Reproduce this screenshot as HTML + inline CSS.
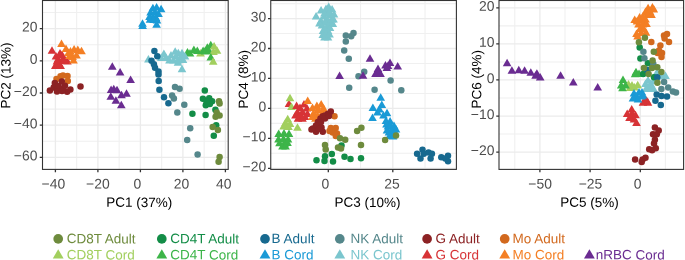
<!DOCTYPE html><html><head><meta charset="utf-8"><style>html,body{margin:0;padding:0;background:#fff;width:685px;height:260px;overflow:hidden}svg{display:block;will-change:transform}text{font-family:"Liberation Sans",sans-serif;text-rendering:geometricPrecision}</style></head><body>
<svg width="685" height="260" viewBox="0 0 685 260">
<g><clipPath id="c0"><rect x="42.5" y="0.5" width="185.7" height="168.9"/></clipPath>
<path d="M76.65 0.5V169.4M119.15 0.5V169.4M161.65 0.5V169.4M204.15 0.5V169.4M42.5 12.50H228.2M42.5 44.70H228.2M42.5 76.90H228.2M42.5 109.10H228.2M42.5 141.30H228.2" stroke="#F0F0F0" stroke-width="1.1" fill="none"/>
<path d="M55.40 0.5V169.4M97.90 0.5V169.4M140.40 0.5V169.4M182.90 0.5V169.4M225.40 0.5V169.4M42.5 28.60H228.2M42.5 60.80H228.2M42.5 93.00H228.2M42.5 125.20H228.2M42.5 157.40H228.2" stroke="#EBEBEB" stroke-width="1.3" fill="none"/>
<g clip-path="url(#c0)">
<path d="M200.50 49.00L204.83 56.50L196.17 56.50Z" fill="#A2CF5E"/>
<path d="M187.50 48.10L191.83 55.60L183.17 55.60Z" fill="#3DB549"/>
<path d="M193.90 45.50L198.23 53.00L189.57 53.00Z" fill="#3DB549"/>
<path d="M197.30 46.60L201.63 54.10L192.97 54.10Z" fill="#3DB549"/>
<path d="M203.10 46.40L207.43 53.90L198.77 53.90Z" fill="#3DB549"/>
<path d="M207.30 43.20L211.63 50.70L202.97 50.70Z" fill="#3DB549"/>
<path d="M210.80 40.80L215.13 48.30L206.47 48.30Z" fill="#3DB549"/>
<path d="M205.00 47.00L209.33 54.50L200.67 54.50Z" fill="#3DB549"/>
<path d="M209.00 46.50L213.33 54.00L204.67 54.00Z" fill="#3DB549"/>
<path d="M190.00 49.00L194.33 56.50L185.67 56.50Z" fill="#3DB549"/>
<path d="M214.10 42.00L218.43 49.50L209.77 49.50Z" fill="#A2CF5E"/>
<path d="M217.00 46.20L221.33 53.70L212.67 53.70Z" fill="#A2CF5E"/>
<path d="M213.50 47.50L217.83 55.00L209.17 55.00Z" fill="#A2CF5E"/>
<path d="M210.80 53.00L215.13 60.50L206.47 60.50Z" fill="#3DB549"/>
<path d="M213.20 57.30L217.53 64.80L208.87 64.80Z" fill="#A2CF5E"/>
<path d="M148.40 55.10L152.73 62.60L144.07 62.60Z" fill="#7BC6CE"/>
<path d="M163.90 49.60L168.23 57.10L159.57 57.10Z" fill="#7BC6CE"/>
<path d="M161.30 53.50L165.63 61.00L156.97 61.00Z" fill="#7BC6CE"/>
<path d="M166.00 53.50L170.33 61.00L161.67 61.00Z" fill="#7BC6CE"/>
<path d="M175.20 47.20L179.53 54.70L170.87 54.70Z" fill="#7BC6CE"/>
<path d="M178.30 48.80L182.63 56.30L173.97 56.30Z" fill="#7BC6CE"/>
<path d="M182.00 48.80L186.33 56.30L177.67 56.30Z" fill="#7BC6CE"/>
<path d="M171.00 51.00L175.33 58.50L166.67 58.50Z" fill="#7BC6CE"/>
<path d="M176.00 52.00L180.33 59.50L171.67 59.50Z" fill="#7BC6CE"/>
<path d="M181.00 52.50L185.33 60.00L176.67 60.00Z" fill="#7BC6CE"/>
<path d="M185.00 52.00L189.33 59.50L180.67 59.50Z" fill="#7BC6CE"/>
<path d="M169.50 56.00L173.83 63.50L165.17 63.50Z" fill="#7BC6CE"/>
<path d="M173.50 56.00L177.83 63.50L169.17 63.50Z" fill="#7BC6CE"/>
<path d="M178.00 56.00L182.33 63.50L173.67 63.50Z" fill="#7BC6CE"/>
<path d="M183.00 55.50L187.33 63.00L178.67 63.00Z" fill="#7BC6CE"/>
<path d="M178.00 58.20L182.33 65.70L173.67 65.70Z" fill="#7BC6CE"/>
<path d="M182.00 64.70L186.33 72.20L177.67 72.20Z" fill="#7BC6CE"/>
<path d="M52.00 46.20L56.33 53.70L47.67 53.70Z" fill="#D73336"/>
<path d="M56.00 52.00L60.33 59.50L51.67 59.50Z" fill="#D73336"/>
<path d="M55.30 61.40L59.63 68.90L50.97 68.90Z" fill="#D73336"/>
<path d="M60.60 61.40L64.93 68.90L56.27 68.90Z" fill="#D73336"/>
<path d="M58.00 55.00L62.33 62.50L53.67 62.50Z" fill="#D73336"/>
<path d="M62.00 56.00L66.33 63.50L57.67 63.50Z" fill="#D73336"/>
<path d="M67.40 57.10L71.73 64.60L63.07 64.60Z" fill="#D73336"/>
<path d="M60.00 49.00L64.33 56.50L55.67 56.50Z" fill="#D73336"/>
<path d="M59.00 59.00L63.33 66.50L54.67 66.50Z" fill="#D73336"/>
<path d="M63.50 53.50L67.83 61.00L59.17 61.00Z" fill="#D73336"/>
<path d="M57.00 57.00L61.33 64.50L52.67 64.50Z" fill="#D73336"/>
<path d="M64.00 56.50L68.33 64.00L59.67 64.00Z" fill="#D73336"/>
<path d="M62.00 50.50L66.33 58.00L57.67 58.00Z" fill="#D73336"/>
<path d="M152.90 3.70L157.23 11.20L148.57 11.20Z" fill="#1A9AD6"/>
<path d="M156.60 3.10L160.93 10.60L152.27 10.60Z" fill="#1A9AD6"/>
<path d="M161.10 4.70L165.43 12.20L156.77 12.20Z" fill="#1A9AD6"/>
<path d="M150.60 8.00L154.93 15.50L146.27 15.50Z" fill="#1A9AD6"/>
<path d="M155.00 8.00L159.33 15.50L150.67 15.50Z" fill="#1A9AD6"/>
<path d="M158.50 9.50L162.83 17.00L154.17 17.00Z" fill="#1A9AD6"/>
<path d="M149.50 12.50L153.83 20.00L145.17 20.00Z" fill="#1A9AD6"/>
<path d="M153.00 12.50L157.33 20.00L148.67 20.00Z" fill="#1A9AD6"/>
<path d="M156.00 13.50L160.33 21.00L151.67 21.00Z" fill="#1A9AD6"/>
<path d="M150.00 15.30L154.33 22.80L145.67 22.80Z" fill="#1A9AD6"/>
<path d="M153.50 15.50L157.83 23.00L149.17 23.00Z" fill="#1A9AD6"/>
<path d="M157.00 16.00L161.33 23.50L152.67 23.50Z" fill="#1A9AD6"/>
<path d="M156.60 20.20L160.93 27.70L152.27 27.70Z" fill="#1A9AD6"/>
<path d="M142.50 19.30L146.83 26.80L138.17 26.80Z" fill="#1A9AD6"/>
<path d="M142.60 21.40L146.93 28.90L138.27 28.90Z" fill="#1A9AD6"/>
<path d="M61.50 39.40L65.83 46.90L57.17 46.90Z" fill="#F47F24"/>
<path d="M66.00 44.50L70.33 52.00L61.67 52.00Z" fill="#F47F24"/>
<path d="M74.10 44.90L78.43 52.40L69.77 52.40Z" fill="#F47F24"/>
<path d="M77.80 45.50L82.13 53.00L73.47 53.00Z" fill="#F47F24"/>
<path d="M81.50 46.80L85.83 54.30L77.17 54.30Z" fill="#F47F24"/>
<path d="M68.50 48.50L72.83 56.00L64.17 56.00Z" fill="#F47F24"/>
<path d="M70.50 47.00L74.83 54.50L66.17 54.50Z" fill="#F47F24"/>
<path d="M72.50 52.50L76.83 60.00L68.17 60.00Z" fill="#F47F24"/>
<path d="M76.50 51.00L80.83 58.50L72.17 58.50Z" fill="#F47F24"/>
<path d="M73.50 55.90L77.83 63.40L69.17 63.40Z" fill="#F47F24"/>
<path d="M69.50 51.50L73.83 59.00L65.17 59.00Z" fill="#F47F24"/>
<circle cx="60.50" cy="76.30" r="3.25" fill="#D2691E"/>
<circle cx="67.50" cy="76.00" r="3.25" fill="#D2691E"/>
<circle cx="56.50" cy="79.00" r="3.25" fill="#D2691E"/>
<circle cx="67.80" cy="81.00" r="3.25" fill="#D2691E"/>
<circle cx="63.00" cy="75.50" r="3.25" fill="#D2691E"/>
<circle cx="204.80" cy="90.50" r="3.25" fill="#138D47"/>
<circle cx="202.90" cy="98.80" r="3.25" fill="#138D47"/>
<circle cx="209.20" cy="98.30" r="3.25" fill="#138D47"/>
<circle cx="212.10" cy="101.20" r="3.25" fill="#138D47"/>
<circle cx="205.80" cy="105.20" r="3.25" fill="#138D47"/>
<circle cx="209.80" cy="104.00" r="3.25" fill="#138D47"/>
<circle cx="215.40" cy="109.80" r="3.25" fill="#138D47"/>
<circle cx="192.40" cy="113.80" r="3.25" fill="#138D47"/>
<circle cx="205.60" cy="115.00" r="3.25" fill="#138D47"/>
<circle cx="216.20" cy="125.30" r="3.25" fill="#138D47"/>
<circle cx="213.80" cy="135.80" r="3.25" fill="#138D47"/>
<circle cx="206.50" cy="101.50" r="3.25" fill="#138D47"/>
<circle cx="175.00" cy="86.90" r="3.25" fill="#55878B"/>
<circle cx="179.60" cy="88.70" r="3.25" fill="#55878B"/>
<circle cx="172.10" cy="95.60" r="3.25" fill="#55878B"/>
<circle cx="173.90" cy="98.50" r="3.25" fill="#55878B"/>
<circle cx="184.30" cy="104.80" r="3.25" fill="#55878B"/>
<circle cx="177.30" cy="112.50" r="3.25" fill="#55878B"/>
<circle cx="190.20" cy="128.20" r="3.25" fill="#55878B"/>
<circle cx="187.20" cy="140.00" r="3.25" fill="#55878B"/>
<circle cx="197.60" cy="154.60" r="3.25" fill="#55878B"/>
<circle cx="154.40" cy="51.00" r="3.25" fill="#17698F"/>
<circle cx="157.30" cy="56.20" r="3.25" fill="#17698F"/>
<circle cx="151.50" cy="60.80" r="3.25" fill="#17698F"/>
<circle cx="153.90" cy="64.20" r="3.25" fill="#17698F"/>
<circle cx="155.00" cy="67.70" r="3.25" fill="#17698F"/>
<circle cx="158.50" cy="71.50" r="3.25" fill="#17698F"/>
<circle cx="158.50" cy="74.40" r="3.25" fill="#17698F"/>
<circle cx="158.70" cy="81.00" r="3.25" fill="#17698F"/>
<circle cx="159.40" cy="89.80" r="3.25" fill="#17698F"/>
<circle cx="164.00" cy="97.30" r="3.25" fill="#17698F"/>
<circle cx="168.40" cy="103.30" r="3.25" fill="#17698F"/>
<circle cx="219.00" cy="101.20" r="3.25" fill="#6E8B3D"/>
<circle cx="219.60" cy="103.50" r="3.25" fill="#6E8B3D"/>
<circle cx="216.70" cy="112.60" r="3.25" fill="#6E8B3D"/>
<circle cx="219.60" cy="115.50" r="3.25" fill="#6E8B3D"/>
<circle cx="215.60" cy="116.70" r="3.25" fill="#6E8B3D"/>
<circle cx="212.70" cy="127.00" r="3.25" fill="#6E8B3D"/>
<circle cx="217.90" cy="129.90" r="3.25" fill="#6E8B3D"/>
<circle cx="219.60" cy="156.90" r="3.25" fill="#6E8B3D"/>
<circle cx="218.60" cy="161.80" r="3.25" fill="#6E8B3D"/>
<circle cx="49.90" cy="90.60" r="3.25" fill="#8C2224"/>
<circle cx="54.80" cy="83.10" r="3.25" fill="#8C2224"/>
<circle cx="61.80" cy="81.50" r="3.25" fill="#8C2224"/>
<circle cx="60.10" cy="89.50" r="3.25" fill="#8C2224"/>
<circle cx="67.10" cy="91.70" r="3.25" fill="#8C2224"/>
<circle cx="70.40" cy="89.50" r="3.25" fill="#8C2224"/>
<circle cx="65.00" cy="85.80" r="3.25" fill="#8C2224"/>
<circle cx="53.70" cy="87.40" r="3.25" fill="#8C2224"/>
<circle cx="56.90" cy="89.50" r="3.25" fill="#8C2224"/>
<circle cx="80.50" cy="86.60" r="3.25" fill="#8C2224"/>
<circle cx="58.50" cy="86.00" r="3.25" fill="#8C2224"/>
<circle cx="63.00" cy="88.50" r="3.25" fill="#8C2224"/>
<circle cx="57.00" cy="91.50" r="3.25" fill="#8C2224"/>
<circle cx="62.00" cy="91.00" r="3.25" fill="#8C2224"/>
<path d="M112.30 62.30L116.63 69.80L107.97 69.80Z" fill="#6A2C91"/>
<path d="M120.10 67.90L124.43 75.40L115.77 75.40Z" fill="#6A2C91"/>
<path d="M130.60 75.60L134.93 83.10L126.27 83.10Z" fill="#6A2C91"/>
<path d="M113.80 84.70L118.13 92.20L109.47 92.20Z" fill="#6A2C91"/>
<path d="M117.00 85.80L121.33 93.30L112.67 93.30Z" fill="#6A2C91"/>
<path d="M111.10 85.50L115.43 93.00L106.77 93.00Z" fill="#6A2C91"/>
<path d="M110.80 92.30L115.13 99.80L106.47 99.80Z" fill="#6A2C91"/>
<path d="M126.50 89.20L130.83 96.70L122.17 96.70Z" fill="#6A2C91"/>
<path d="M121.50 90.80L125.83 98.30L117.17 98.30Z" fill="#6A2C91"/>
<path d="M115.90 96.20L120.23 103.70L111.57 103.70Z" fill="#6A2C91"/>
<path d="M121.30 100.80L125.63 108.30L116.97 108.30Z" fill="#6A2C91"/>
</g>
<rect x="42.5" y="0.5" width="185.7" height="168.9" fill="none" stroke="#333" stroke-width="1.1"/>
<path d="M55.40 169.4v2.75M97.90 169.4v2.75M140.40 169.4v2.75M182.90 169.4v2.75M225.40 169.4v2.75M42.5 28.60h-2.75M42.5 60.80h-2.75M42.5 93.00h-2.75M42.5 125.20h-2.75M42.5 157.40h-2.75" stroke="#333" stroke-width="1.3" fill="none"/>
<text transform="translate(53.35 188.50) skewY(0.3) scale(1 1.0)" font-size="13.9" fill="#4D4D4D" text-anchor="middle">−40</text>
<text transform="translate(97.90 188.50) skewY(0.3) scale(1 1.0)" font-size="13.9" fill="#4D4D4D" text-anchor="middle">−20</text>
<text transform="translate(137.30 188.50) skewY(0.3) scale(1 1.0)" font-size="13.9" fill="#4D4D4D" text-anchor="middle">0</text>
<text transform="translate(181.50 188.50) skewY(0.3) scale(1 1.0)" font-size="13.9" fill="#4D4D4D" text-anchor="middle">20</text>
<text transform="translate(223.80 188.50) skewY(0.3) scale(1 1.0)" font-size="13.9" fill="#4D4D4D" text-anchor="middle">40</text>
<text transform="translate(37.40 31.60) skewY(0.3) scale(1 1.0)" font-size="13.9" fill="#4D4D4D" text-anchor="end">20</text>
<text transform="translate(37.40 63.80) skewY(0.3) scale(1 1.0)" font-size="13.9" fill="#4D4D4D" text-anchor="end">0</text>
<text transform="translate(37.40 96.00) skewY(0.3) scale(1 1.0)" font-size="13.9" fill="#4D4D4D" text-anchor="end">−20</text>
<text transform="translate(37.40 128.20) skewY(0.3) scale(1 1.0)" font-size="13.9" fill="#4D4D4D" text-anchor="end">−40</text>
<text transform="translate(37.40 160.40) skewY(0.3) scale(1 1.0)" font-size="13.9" fill="#4D4D4D" text-anchor="end">−60</text>
<text transform="translate(139.20 206.90) skewY(0.3) scale(1 1.0)" font-size="13.5" fill="#000" text-anchor="middle">PC1 (37%)</text>
<text transform="translate(10.3 108.5) rotate(-90) skewY(0.3) scale(1 1.0)" font-size="13.5" fill="#000">PC2 (13%)</text>
</g>
<g><clipPath id="c1"><rect x="270.75" y="0.5" width="185.64999999999998" height="168.9"/></clipPath>
<path d="M296.05 0.5V169.4M360.55 0.5V169.4M425.05 0.5V169.4M270.75 3.61H456.4M270.75 33.55H456.4M270.75 63.49H456.4M270.75 93.43H456.4M270.75 123.37H456.4M270.75 153.31H456.4" stroke="#F0F0F0" stroke-width="1.1" fill="none"/>
<path d="M328.30 0.5V169.4M392.80 0.5V169.4M270.75 18.58H456.4M270.75 48.52H456.4M270.75 78.46H456.4M270.75 108.40H456.4M270.75 138.34H456.4M270.75 168.28H456.4" stroke="#EBEBEB" stroke-width="1.3" fill="none"/>
<g clip-path="url(#c1)">
<path d="M289.00 99.50L293.33 107.00L284.67 107.00Z" fill="#D73336"/>
<path d="M290.00 93.80L294.33 101.30L285.67 101.30Z" fill="#A2CF5E"/>
<path d="M291.50 102.60L295.83 110.10L287.17 110.10Z" fill="#A2CF5E"/>
<path d="M287.70 114.80L292.03 122.30L283.37 122.30Z" fill="#A2CF5E"/>
<path d="M285.50 118.50L289.83 126.00L281.17 126.00Z" fill="#A2CF5E"/>
<path d="M290.00 119.50L294.33 127.00L285.67 127.00Z" fill="#A2CF5E"/>
<path d="M283.60 121.90L287.93 129.40L279.27 129.40Z" fill="#A2CF5E"/>
<path d="M288.50 122.50L292.83 130.00L284.17 130.00Z" fill="#A2CF5E"/>
<path d="M297.50 123.20L301.83 130.70L293.17 130.70Z" fill="#A2CF5E"/>
<path d="M278.70 129.50L283.03 137.00L274.37 137.00Z" fill="#3DB549"/>
<path d="M284.00 129.00L288.33 136.50L279.67 136.50Z" fill="#3DB549"/>
<path d="M289.00 129.50L293.33 137.00L284.67 137.00Z" fill="#3DB549"/>
<path d="M278.50 135.00L282.83 142.50L274.17 142.50Z" fill="#3DB549"/>
<path d="M283.50 134.50L287.83 142.00L279.17 142.00Z" fill="#3DB549"/>
<path d="M288.00 135.00L292.33 142.50L283.67 142.50Z" fill="#3DB549"/>
<path d="M279.50 138.80L283.83 146.30L275.17 146.30Z" fill="#3DB549"/>
<path d="M284.50 139.50L288.83 147.00L280.17 147.00Z" fill="#3DB549"/>
<path d="M287.50 138.50L291.83 146.00L283.17 146.00Z" fill="#3DB549"/>
<path d="M282.50 142.10L286.83 149.60L278.17 149.60Z" fill="#3DB549"/>
<path d="M285.50 142.10L289.83 149.60L281.17 149.60Z" fill="#3DB549"/>
<path d="M328.70 2.50L333.03 10.00L324.37 10.00Z" fill="#7BC6CE"/>
<path d="M321.10 5.90L325.43 13.40L316.77 13.40Z" fill="#7BC6CE"/>
<path d="M332.10 5.10L336.43 12.60L327.77 12.60Z" fill="#7BC6CE"/>
<path d="M316.10 12.00L320.43 19.50L311.77 19.50Z" fill="#7BC6CE"/>
<path d="M326.00 8.00L330.33 15.50L321.67 15.50Z" fill="#7BC6CE"/>
<path d="M330.50 10.50L334.83 18.00L326.17 18.00Z" fill="#7BC6CE"/>
<path d="M324.00 12.00L328.33 19.50L319.67 19.50Z" fill="#7BC6CE"/>
<path d="M321.00 16.50L325.33 24.00L316.67 24.00Z" fill="#7BC6CE"/>
<path d="M327.00 15.00L331.33 22.50L322.67 22.50Z" fill="#7BC6CE"/>
<path d="M332.00 15.00L336.33 22.50L327.67 22.50Z" fill="#7BC6CE"/>
<path d="M332.80 19.60L337.13 27.10L328.47 27.10Z" fill="#7BC6CE"/>
<path d="M322.00 21.00L326.33 28.50L317.67 28.50Z" fill="#7BC6CE"/>
<path d="M327.50 21.50L331.83 29.00L323.17 29.00Z" fill="#7BC6CE"/>
<path d="M323.00 26.50L327.33 34.00L318.67 34.00Z" fill="#7BC6CE"/>
<path d="M328.00 26.50L332.33 34.00L323.67 34.00Z" fill="#7BC6CE"/>
<path d="M322.80 30.50L327.13 38.00L318.47 38.00Z" fill="#7BC6CE"/>
<path d="M328.00 33.10L332.33 40.60L323.67 40.60Z" fill="#7BC6CE"/>
<path d="M324.50 33.10L328.83 40.60L320.17 40.60Z" fill="#7BC6CE"/>
<path d="M326.00 4.50L330.33 12.00L321.67 12.00Z" fill="#7BC6CE"/>
<path d="M324.50 9.00L328.83 16.50L320.17 16.50Z" fill="#7BC6CE"/>
<path d="M329.50 8.00L333.83 15.50L325.17 15.50Z" fill="#7BC6CE"/>
<path d="M334.00 10.00L338.33 17.50L329.67 17.50Z" fill="#7BC6CE"/>
<path d="M325.00 17.50L329.33 25.00L320.67 25.00Z" fill="#7BC6CE"/>
<path d="M330.00 17.50L334.33 25.00L325.67 25.00Z" fill="#7BC6CE"/>
<path d="M319.50 19.00L323.83 26.50L315.17 26.50Z" fill="#7BC6CE"/>
<path d="M325.00 24.00L329.33 31.50L320.67 31.50Z" fill="#7BC6CE"/>
<path d="M330.00 23.50L334.33 31.00L325.67 31.00Z" fill="#7BC6CE"/>
<path d="M326.00 29.00L330.33 36.50L321.67 36.50Z" fill="#7BC6CE"/>
<path d="M329.50 30.00L333.83 37.50L325.17 37.50Z" fill="#7BC6CE"/>
<path d="M333.50 15.00L337.83 22.50L329.17 22.50Z" fill="#7BC6CE"/>
<path d="M296.60 101.40L300.93 108.90L292.27 108.90Z" fill="#D73336"/>
<path d="M304.00 100.10L308.33 107.60L299.67 107.60Z" fill="#D73336"/>
<path d="M300.00 103.50L304.33 111.00L295.67 111.00Z" fill="#D73336"/>
<path d="M307.00 104.00L311.33 111.50L302.67 111.50Z" fill="#D73336"/>
<path d="M297.50 108.00L301.83 115.50L293.17 115.50Z" fill="#D73336"/>
<path d="M302.50 107.50L306.83 115.00L298.17 115.00Z" fill="#D73336"/>
<path d="M307.50 109.50L311.83 117.00L303.17 117.00Z" fill="#D73336"/>
<path d="M295.50 111.00L299.83 118.50L291.17 118.50Z" fill="#D73336"/>
<path d="M300.00 111.50L304.33 119.00L295.67 119.00Z" fill="#D73336"/>
<path d="M305.00 112.50L309.33 120.00L300.67 120.00Z" fill="#D73336"/>
<path d="M298.00 114.20L302.33 121.70L293.67 121.70Z" fill="#D73336"/>
<path d="M302.50 114.20L306.83 121.70L298.17 121.70Z" fill="#D73336"/>
<path d="M380.70 93.20L385.03 100.70L376.37 100.70Z" fill="#1A9AD6"/>
<path d="M381.80 100.40L386.13 107.90L377.47 107.90Z" fill="#1A9AD6"/>
<path d="M372.90 103.60L377.23 111.10L368.57 111.10Z" fill="#1A9AD6"/>
<path d="M372.50 113.50L376.83 121.00L368.17 121.00Z" fill="#1A9AD6"/>
<path d="M377.50 108.00L381.83 115.50L373.17 115.50Z" fill="#1A9AD6"/>
<path d="M387.00 108.70L391.33 116.20L382.67 116.20Z" fill="#1A9AD6"/>
<path d="M390.10 117.00L394.43 124.50L385.77 124.50Z" fill="#1A9AD6"/>
<path d="M386.00 116.50L390.33 124.00L381.67 124.00Z" fill="#1A9AD6"/>
<path d="M394.00 121.50L398.33 129.00L389.67 129.00Z" fill="#1A9AD6"/>
<path d="M388.00 122.00L392.33 129.50L383.67 129.50Z" fill="#1A9AD6"/>
<path d="M392.50 125.00L396.83 132.50L388.17 132.50Z" fill="#1A9AD6"/>
<path d="M389.00 128.00L393.33 135.50L384.67 135.50Z" fill="#1A9AD6"/>
<path d="M393.50 129.00L397.83 136.50L389.17 136.50Z" fill="#1A9AD6"/>
<path d="M391.00 131.30L395.33 138.80L386.67 138.80Z" fill="#1A9AD6"/>
<path d="M396.00 125.00L400.33 132.50L391.67 132.50Z" fill="#1A9AD6"/>
<path d="M379.50 105.00L383.83 112.50L375.17 112.50Z" fill="#1A9AD6"/>
<path d="M383.50 111.00L387.83 118.50L379.17 118.50Z" fill="#1A9AD6"/>
<path d="M386.50 120.00L390.83 127.50L382.17 127.50Z" fill="#1A9AD6"/>
<path d="M390.50 121.50L394.83 129.00L386.17 129.00Z" fill="#1A9AD6"/>
<path d="M387.00 126.00L391.33 133.50L382.67 133.50Z" fill="#1A9AD6"/>
<path d="M391.50 126.50L395.83 134.00L387.17 134.00Z" fill="#1A9AD6"/>
<path d="M395.00 128.00L399.33 135.50L390.67 135.50Z" fill="#1A9AD6"/>
<path d="M389.50 131.50L393.83 139.00L385.17 139.00Z" fill="#1A9AD6"/>
<path d="M393.00 132.00L397.33 139.50L388.67 139.50Z" fill="#1A9AD6"/>
<path d="M307.70 96.50L312.03 104.00L303.37 104.00Z" fill="#F47F24"/>
<path d="M316.90 101.40L321.23 108.90L312.57 108.90Z" fill="#F47F24"/>
<path d="M321.20 100.10L325.53 107.60L316.87 107.60Z" fill="#F47F24"/>
<path d="M312.50 103.50L316.83 111.00L308.17 111.00Z" fill="#F47F24"/>
<path d="M318.00 105.50L322.33 113.00L313.67 113.00Z" fill="#F47F24"/>
<path d="M323.00 105.00L327.33 112.50L318.67 112.50Z" fill="#F47F24"/>
<path d="M313.50 109.00L317.83 116.50L309.17 116.50Z" fill="#F47F24"/>
<path d="M317.50 111.00L321.83 118.50L313.17 118.50Z" fill="#F47F24"/>
<path d="M315.50 114.20L319.83 121.70L311.17 121.70Z" fill="#F47F24"/>
<path d="M312.50 112.50L316.83 120.00L308.17 120.00Z" fill="#F47F24"/>
<path d="M322.00 109.00L326.33 116.50L317.67 116.50Z" fill="#F47F24"/>
<path d="M323.50 104.00L327.83 111.50L319.17 111.50Z" fill="#F47F24"/>
<circle cx="334.50" cy="116.30" r="3.25" fill="#D2691E"/>
<circle cx="330.80" cy="128.00" r="3.25" fill="#D2691E"/>
<circle cx="335.70" cy="128.00" r="3.25" fill="#D2691E"/>
<circle cx="332.60" cy="132.50" r="3.25" fill="#D2691E"/>
<circle cx="337.00" cy="133.60" r="3.25" fill="#D2691E"/>
<circle cx="329.50" cy="131.00" r="3.25" fill="#D2691E"/>
<circle cx="335.80" cy="136.00" r="3.25" fill="#D2691E"/>
<circle cx="341.50" cy="145.50" r="3.25" fill="#138D47"/>
<circle cx="316.50" cy="160.30" r="3.25" fill="#138D47"/>
<circle cx="325.00" cy="156.30" r="3.25" fill="#138D47"/>
<circle cx="324.50" cy="161.00" r="3.25" fill="#138D47"/>
<circle cx="331.80" cy="154.00" r="3.25" fill="#138D47"/>
<circle cx="333.00" cy="161.50" r="3.25" fill="#138D47"/>
<circle cx="344.50" cy="156.70" r="3.25" fill="#138D47"/>
<circle cx="350.50" cy="159.00" r="3.25" fill="#138D47"/>
<circle cx="361.00" cy="158.20" r="3.25" fill="#138D47"/>
<circle cx="345.80" cy="35.40" r="3.25" fill="#55878B"/>
<circle cx="353.50" cy="33.10" r="3.25" fill="#55878B"/>
<circle cx="351.20" cy="36.20" r="3.25" fill="#55878B"/>
<circle cx="345.80" cy="41.50" r="3.25" fill="#55878B"/>
<circle cx="344.20" cy="50.50" r="3.25" fill="#55878B"/>
<circle cx="348.80" cy="58.80" r="3.25" fill="#55878B"/>
<circle cx="364.20" cy="71.70" r="3.25" fill="#55878B"/>
<circle cx="358.50" cy="76.20" r="3.25" fill="#55878B"/>
<circle cx="349.20" cy="87.80" r="3.25" fill="#55878B"/>
<circle cx="374.60" cy="89.70" r="3.25" fill="#55878B"/>
<circle cx="390.60" cy="80.40" r="3.25" fill="#55878B"/>
<circle cx="401.30" cy="90.30" r="3.25" fill="#55878B"/>
<circle cx="417.10" cy="153.80" r="3.25" fill="#17698F"/>
<circle cx="422.50" cy="149.80" r="3.25" fill="#17698F"/>
<circle cx="420.50" cy="158.50" r="3.25" fill="#17698F"/>
<circle cx="423.80" cy="153.80" r="3.25" fill="#17698F"/>
<circle cx="428.50" cy="152.50" r="3.25" fill="#17698F"/>
<circle cx="431.90" cy="153.80" r="3.25" fill="#17698F"/>
<circle cx="430.60" cy="158.50" r="3.25" fill="#17698F"/>
<circle cx="441.30" cy="157.20" r="3.25" fill="#17698F"/>
<circle cx="448.00" cy="155.80" r="3.25" fill="#17698F"/>
<circle cx="448.00" cy="161.20" r="3.25" fill="#17698F"/>
<circle cx="445.30" cy="158.50" r="3.25" fill="#17698F"/>
<circle cx="340.00" cy="138.30" r="3.25" fill="#6E8B3D"/>
<circle cx="345.20" cy="139.80" r="3.25" fill="#6E8B3D"/>
<circle cx="325.00" cy="145.00" r="3.25" fill="#6E8B3D"/>
<circle cx="325.70" cy="149.50" r="3.25" fill="#6E8B3D"/>
<circle cx="338.00" cy="147.50" r="3.25" fill="#6E8B3D"/>
<circle cx="341.00" cy="148.50" r="3.25" fill="#6E8B3D"/>
<circle cx="361.00" cy="145.00" r="3.25" fill="#6E8B3D"/>
<circle cx="357.10" cy="131.00" r="3.25" fill="#6E8B3D"/>
<circle cx="361.40" cy="127.80" r="3.25" fill="#6E8B3D"/>
<circle cx="385.10" cy="140.10" r="3.25" fill="#6E8B3D"/>
<circle cx="396.00" cy="135.50" r="3.25" fill="#6E8B3D"/>
<circle cx="330.80" cy="111.40" r="3.25" fill="#8C2224"/>
<circle cx="327.70" cy="113.90" r="3.25" fill="#8C2224"/>
<circle cx="325.00" cy="115.50" r="3.25" fill="#8C2224"/>
<circle cx="322.80" cy="116.30" r="3.25" fill="#8C2224"/>
<circle cx="320.50" cy="118.50" r="3.25" fill="#8C2224"/>
<circle cx="325.00" cy="118.50" r="3.25" fill="#8C2224"/>
<circle cx="329.00" cy="116.00" r="3.25" fill="#8C2224"/>
<circle cx="317.90" cy="121.90" r="3.25" fill="#8C2224"/>
<circle cx="321.00" cy="122.00" r="3.25" fill="#8C2224"/>
<circle cx="312.90" cy="128.60" r="3.25" fill="#8C2224"/>
<circle cx="316.00" cy="125.50" r="3.25" fill="#8C2224"/>
<circle cx="321.50" cy="127.40" r="3.25" fill="#8C2224"/>
<circle cx="316.00" cy="131.70" r="3.25" fill="#8C2224"/>
<circle cx="322.80" cy="131.70" r="3.25" fill="#8C2224"/>
<circle cx="319.00" cy="129.00" r="3.25" fill="#8C2224"/>
<circle cx="311.50" cy="129.50" r="3.25" fill="#8C2224"/>
<path d="M339.60 71.40L343.93 78.90L335.27 78.90Z" fill="#6A2C91"/>
<path d="M370.00 54.20L374.33 61.70L365.67 61.70Z" fill="#6A2C91"/>
<path d="M390.00 58.50L394.33 66.00L385.67 66.00Z" fill="#6A2C91"/>
<path d="M397.70 61.90L402.03 69.40L393.37 69.40Z" fill="#6A2C91"/>
<path d="M386.90 63.50L391.23 71.00L382.57 71.00Z" fill="#6A2C91"/>
<path d="M385.50 61.00L389.83 68.50L381.17 68.50Z" fill="#6A2C91"/>
<path d="M378.00 64.50L382.33 72.00L373.67 72.00Z" fill="#6A2C91"/>
<path d="M375.50 69.60L379.83 77.10L371.17 77.10Z" fill="#6A2C91"/>
<path d="M380.50 69.60L384.83 77.10L376.17 77.10Z" fill="#6A2C91"/>
<path d="M363.00 71.20L367.33 78.70L358.67 78.70Z" fill="#6A2C91"/>
<path d="M377.80 67.50L382.13 75.00L373.47 75.00Z" fill="#6A2C91"/>
<path d="M388.00 61.50L392.33 69.00L383.67 69.00Z" fill="#6A2C91"/>
</g>
<rect x="270.75" y="0.5" width="185.64999999999998" height="168.9" fill="none" stroke="#333" stroke-width="1.1"/>
<path d="M328.30 169.4v2.75M392.80 169.4v2.75M270.75 18.58h-2.75M270.75 48.52h-2.75M270.75 78.46h-2.75M270.75 108.40h-2.75M270.75 138.34h-2.75M270.75 168.28h-2.75" stroke="#333" stroke-width="1.3" fill="none"/>
<text transform="translate(325.30 188.50) skewY(0.3) scale(1 1.0)" font-size="13.9" fill="#4D4D4D" text-anchor="middle">0</text>
<text transform="translate(391.95 188.50) skewY(0.3) scale(1 1.0)" font-size="13.9" fill="#4D4D4D" text-anchor="middle">25</text>
<text transform="translate(266.20 21.58) skewY(0.3) scale(1 1.0)" font-size="13.9" fill="#4D4D4D" text-anchor="end">30</text>
<text transform="translate(266.20 51.52) skewY(0.3) scale(1 1.0)" font-size="13.9" fill="#4D4D4D" text-anchor="end">20</text>
<text transform="translate(266.20 81.46) skewY(0.3) scale(1 1.0)" font-size="13.9" fill="#4D4D4D" text-anchor="end">10</text>
<text transform="translate(266.20 111.40) skewY(0.3) scale(1 1.0)" font-size="13.9" fill="#4D4D4D" text-anchor="end">0</text>
<text transform="translate(266.20 141.34) skewY(0.3) scale(1 1.0)" font-size="13.9" fill="#4D4D4D" text-anchor="end">−10</text>
<text transform="translate(266.20 171.28) skewY(0.3) scale(1 1.0)" font-size="13.9" fill="#4D4D4D" text-anchor="end">−20</text>
<text transform="translate(367.50 206.90) skewY(0.3) scale(1 1.0)" font-size="13.5" fill="#000" text-anchor="middle">PC3 (10%)</text>
<text transform="translate(247.9 108.5) rotate(-90) skewY(0.3) scale(1 1.0)" font-size="13.5" fill="#000">PC4 (8%)</text>
</g>
<g><clipPath id="c2"><rect x="499.0" y="0.5" width="184.60000000000002" height="168.9"/></clipPath>
<path d="M514.80 0.5V169.4M565.00 0.5V169.4M615.20 0.5V169.4M665.40 0.5V169.4M499.0 25.88H683.6M499.0 61.94H683.6M499.0 98.00H683.6M499.0 134.06H683.6" stroke="#F0F0F0" stroke-width="1.1" fill="none"/>
<path d="M539.90 0.5V169.4M590.10 0.5V169.4M640.30 0.5V169.4M499.0 7.85H683.6M499.0 43.91H683.6M499.0 79.97H683.6M499.0 116.03H683.6M499.0 152.09H683.6" stroke="#EBEBEB" stroke-width="1.3" fill="none"/>
<g clip-path="url(#c2)">
<path d="M628.50 80.00L632.83 87.50L624.17 87.50Z" fill="#A2CF5E"/>
<path d="M632.00 81.00L636.33 88.50L627.67 88.50Z" fill="#A2CF5E"/>
<path d="M637.70 80.80L642.03 88.30L633.37 88.30Z" fill="#A2CF5E"/>
<path d="M630.00 83.50L634.33 91.00L625.67 91.00Z" fill="#A2CF5E"/>
<path d="M634.50 83.00L638.83 90.50L630.17 90.50Z" fill="#A2CF5E"/>
<path d="M636.00 67.80L640.33 75.30L631.67 75.30Z" fill="#3DB549"/>
<path d="M635.10 69.80L639.43 77.30L630.77 77.30Z" fill="#3DB549"/>
<path d="M639.00 69.50L643.33 77.00L634.67 77.00Z" fill="#3DB549"/>
<path d="M623.00 75.60L627.33 83.10L618.67 83.10Z" fill="#3DB549"/>
<path d="M621.20 81.10L625.53 88.60L616.87 88.60Z" fill="#3DB549"/>
<path d="M625.50 81.00L629.83 88.50L621.17 88.50Z" fill="#3DB549"/>
<path d="M622.50 83.70L626.83 91.20L618.17 91.20Z" fill="#3DB549"/>
<path d="M645.50 79.50L649.83 87.00L641.17 87.00Z" fill="#7BC6CE"/>
<path d="M650.50 79.50L654.83 87.00L646.17 87.00Z" fill="#7BC6CE"/>
<path d="M648.00 83.50L652.33 91.00L643.67 91.00Z" fill="#7BC6CE"/>
<path d="M653.00 83.50L657.33 91.00L648.67 91.00Z" fill="#7BC6CE"/>
<path d="M646.00 84.50L650.33 92.00L641.67 92.00Z" fill="#7BC6CE"/>
<path d="M648.00 76.00L652.33 83.50L643.67 83.50Z" fill="#7BC6CE"/>
<path d="M653.50 76.50L657.83 84.00L649.17 84.00Z" fill="#7BC6CE"/>
<path d="M660.00 69.00L664.33 76.50L655.67 76.50Z" fill="#7BC6CE"/>
<path d="M665.50 71.50L669.83 79.00L661.17 79.00Z" fill="#7BC6CE"/>
<path d="M656.00 71.00L660.33 78.50L651.67 78.50Z" fill="#7BC6CE"/>
<path d="M651.50 84.50L655.83 92.00L647.17 92.00Z" fill="#7BC6CE"/>
<path d="M657.00 68.00L661.33 75.50L652.67 75.50Z" fill="#7BC6CE"/>
<path d="M662.00 72.00L666.33 79.50L657.67 79.50Z" fill="#7BC6CE"/>
<path d="M646.60 96.30L650.93 103.80L642.27 103.80Z" fill="#D73336"/>
<path d="M648.00 98.30L652.33 105.80L643.67 105.80Z" fill="#D73336"/>
<path d="M643.00 98.30L647.33 105.80L638.67 105.80Z" fill="#D73336"/>
<path d="M645.50 95.50L649.83 103.00L641.17 103.00Z" fill="#D73336"/>
<path d="M631.70 105.10L636.03 112.60L627.37 112.60Z" fill="#D73336"/>
<path d="M627.20 109.40L631.53 116.90L622.87 116.90Z" fill="#D73336"/>
<path d="M632.00 109.00L636.33 116.50L627.67 116.50Z" fill="#D73336"/>
<path d="M635.50 110.80L639.83 118.30L631.17 118.30Z" fill="#D73336"/>
<path d="M631.00 112.50L635.33 120.00L626.67 120.00Z" fill="#D73336"/>
<path d="M634.00 115.00L638.33 122.50L629.67 122.50Z" fill="#D73336"/>
<path d="M636.50 118.40L640.83 125.90L632.17 125.90Z" fill="#D73336"/>
<path d="M629.50 113.50L633.83 121.00L625.17 121.00Z" fill="#D73336"/>
<path d="M634.00 89.00L638.33 96.50L629.67 96.50Z" fill="#1A9AD6"/>
<path d="M639.00 88.00L643.33 95.50L634.67 95.50Z" fill="#1A9AD6"/>
<path d="M636.50 92.00L640.83 99.50L632.17 99.50Z" fill="#1A9AD6"/>
<path d="M641.50 92.00L645.83 99.50L637.17 99.50Z" fill="#1A9AD6"/>
<path d="M633.00 94.00L637.33 101.50L628.67 101.50Z" fill="#1A9AD6"/>
<path d="M638.00 95.00L642.33 102.50L633.67 102.50Z" fill="#1A9AD6"/>
<path d="M642.00 88.00L646.33 95.50L637.67 95.50Z" fill="#1A9AD6"/>
<path d="M643.00 91.00L647.33 98.50L638.67 98.50Z" fill="#1A9AD6"/>
<path d="M648.10 3.80L652.43 11.30L643.77 11.30Z" fill="#F47F24"/>
<path d="M652.40 3.10L656.73 10.60L648.07 10.60Z" fill="#F47F24"/>
<path d="M653.80 5.00L658.13 12.50L649.47 12.50Z" fill="#F47F24"/>
<path d="M645.50 7.50L649.83 15.00L641.17 15.00Z" fill="#F47F24"/>
<path d="M650.00 7.50L654.33 15.00L645.67 15.00Z" fill="#F47F24"/>
<path d="M647.50 10.50L651.83 18.00L643.17 18.00Z" fill="#F47F24"/>
<path d="M651.50 10.50L655.83 18.00L647.17 18.00Z" fill="#F47F24"/>
<path d="M639.60 13.10L643.93 20.60L635.27 20.60Z" fill="#F47F24"/>
<path d="M634.70 15.60L639.03 23.10L630.37 23.10Z" fill="#F47F24"/>
<path d="M641.50 16.00L645.83 23.50L637.17 23.50Z" fill="#F47F24"/>
<path d="M645.50 15.00L649.83 22.50L641.17 22.50Z" fill="#F47F24"/>
<path d="M638.50 20.00L642.83 27.50L634.17 27.50Z" fill="#F47F24"/>
<path d="M643.00 20.00L647.33 27.50L638.67 27.50Z" fill="#F47F24"/>
<path d="M640.00 24.50L644.33 32.00L635.67 32.00Z" fill="#F47F24"/>
<path d="M636.50 29.50L640.83 37.00L632.17 37.00Z" fill="#F47F24"/>
<path d="M641.00 28.50L645.33 36.00L636.67 36.00Z" fill="#F47F24"/>
<path d="M646.00 28.20L650.33 35.70L641.67 35.70Z" fill="#F47F24"/>
<path d="M637.60 32.00L641.93 39.50L633.27 39.50Z" fill="#F47F24"/>
<path d="M643.00 12.00L647.33 19.50L638.67 19.50Z" fill="#F47F24"/>
<path d="M637.00 17.00L641.33 24.50L632.67 24.50Z" fill="#F47F24"/>
<path d="M646.50 19.50L650.83 27.00L642.17 27.00Z" fill="#F47F24"/>
<path d="M641.50 23.00L645.83 30.50L637.17 30.50Z" fill="#F47F24"/>
<path d="M644.00 25.00L648.33 32.50L639.67 32.50Z" fill="#F47F24"/>
<circle cx="651.30" cy="42.00" r="3.25" fill="#D2691E"/>
<circle cx="664.00" cy="35.60" r="3.25" fill="#D2691E"/>
<circle cx="667.00" cy="34.00" r="3.25" fill="#D2691E"/>
<circle cx="664.60" cy="38.40" r="3.25" fill="#D2691E"/>
<circle cx="669.00" cy="42.00" r="3.25" fill="#D2691E"/>
<circle cx="660.40" cy="45.50" r="3.25" fill="#D2691E"/>
<circle cx="659.00" cy="50.50" r="3.25" fill="#D2691E"/>
<circle cx="657.50" cy="53.00" r="3.25" fill="#D2691E"/>
<circle cx="662.00" cy="53.00" r="3.25" fill="#D2691E"/>
<circle cx="661.50" cy="57.00" r="3.25" fill="#D2691E"/>
<circle cx="639.70" cy="47.50" r="3.25" fill="#138D47"/>
<circle cx="640.40" cy="58.60" r="3.25" fill="#138D47"/>
<circle cx="647.90" cy="63.20" r="3.25" fill="#138D47"/>
<circle cx="643.20" cy="74.00" r="3.25" fill="#138D47"/>
<circle cx="654.00" cy="77.30" r="3.25" fill="#138D47"/>
<circle cx="643.40" cy="51.80" r="3.25" fill="#55878B"/>
<circle cx="644.40" cy="58.30" r="3.25" fill="#55878B"/>
<circle cx="653.30" cy="63.90" r="3.25" fill="#55878B"/>
<circle cx="664.10" cy="82.10" r="3.25" fill="#55878B"/>
<circle cx="668.20" cy="87.50" r="3.25" fill="#55878B"/>
<circle cx="661.40" cy="88.90" r="3.25" fill="#55878B"/>
<circle cx="672.90" cy="91.60" r="3.25" fill="#55878B"/>
<circle cx="676.00" cy="92.50" r="3.25" fill="#55878B"/>
<circle cx="647.20" cy="70.00" r="3.25" fill="#17698F"/>
<circle cx="657.30" cy="77.30" r="3.25" fill="#17698F"/>
<circle cx="656.70" cy="94.50" r="3.25" fill="#17698F"/>
<circle cx="661.50" cy="96.00" r="3.25" fill="#17698F"/>
<circle cx="667.00" cy="96.50" r="3.25" fill="#17698F"/>
<circle cx="655.40" cy="100.70" r="3.25" fill="#17698F"/>
<circle cx="660.80" cy="105.10" r="3.25" fill="#17698F"/>
<circle cx="644.90" cy="37.80" r="3.25" fill="#6E8B3D"/>
<circle cx="638.90" cy="42.30" r="3.25" fill="#6E8B3D"/>
<circle cx="653.80" cy="51.80" r="3.25" fill="#6E8B3D"/>
<circle cx="652.60" cy="60.50" r="3.25" fill="#6E8B3D"/>
<circle cx="643.90" cy="67.90" r="3.25" fill="#6E8B3D"/>
<circle cx="652.00" cy="67.90" r="3.25" fill="#6E8B3D"/>
<circle cx="657.30" cy="67.20" r="3.25" fill="#6E8B3D"/>
<circle cx="661.40" cy="72.00" r="3.25" fill="#6E8B3D"/>
<circle cx="648.60" cy="74.00" r="3.25" fill="#6E8B3D"/>
<circle cx="657.40" cy="82.80" r="3.25" fill="#6E8B3D"/>
<circle cx="654.90" cy="127.50" r="3.25" fill="#8C2224"/>
<circle cx="658.70" cy="130.40" r="3.25" fill="#8C2224"/>
<circle cx="653.00" cy="134.20" r="3.25" fill="#8C2224"/>
<circle cx="656.80" cy="134.20" r="3.25" fill="#8C2224"/>
<circle cx="654.90" cy="139.80" r="3.25" fill="#8C2224"/>
<circle cx="654.00" cy="143.60" r="3.25" fill="#8C2224"/>
<circle cx="655.80" cy="148.30" r="3.25" fill="#8C2224"/>
<circle cx="649.20" cy="149.20" r="3.25" fill="#8C2224"/>
<circle cx="652.10" cy="150.20" r="3.25" fill="#8C2224"/>
<circle cx="635.10" cy="159.60" r="3.25" fill="#8C2224"/>
<circle cx="642.60" cy="159.60" r="3.25" fill="#8C2224"/>
<circle cx="645.50" cy="157.70" r="3.25" fill="#8C2224"/>
<circle cx="641.70" cy="161.90" r="3.25" fill="#8C2224"/>
<path d="M507.10 58.70L511.43 66.20L502.77 66.20Z" fill="#6A2C91"/>
<path d="M511.90 66.30L516.23 73.80L507.57 73.80Z" fill="#6A2C91"/>
<path d="M518.80 65.80L523.13 73.30L514.47 73.30Z" fill="#6A2C91"/>
<path d="M524.60 66.30L528.93 73.80L520.27 73.80Z" fill="#6A2C91"/>
<path d="M530.80 68.30L535.13 75.80L526.47 75.80Z" fill="#6A2C91"/>
<path d="M536.90 69.20L541.23 76.70L532.57 76.70Z" fill="#6A2C91"/>
<path d="M540.20 73.00L544.53 80.50L535.87 80.50Z" fill="#6A2C91"/>
<path d="M535.60 71.20L539.93 78.70L531.27 78.70Z" fill="#6A2C91"/>
<path d="M560.60 71.20L564.93 78.70L556.27 78.70Z" fill="#6A2C91"/>
<path d="M573.30 78.00L577.63 85.50L568.97 85.50Z" fill="#6A2C91"/>
<path d="M597.70 83.10L602.03 90.60L593.37 90.60Z" fill="#6A2C91"/>
</g>
<rect x="499.0" y="0.5" width="184.60000000000002" height="168.9" fill="none" stroke="#333" stroke-width="1.1"/>
<path d="M539.90 169.4v2.75M590.10 169.4v2.75M640.30 169.4v2.75M499.0 7.85h-2.75M499.0 43.91h-2.75M499.0 79.97h-2.75M499.0 116.03h-2.75M499.0 152.09h-2.75" stroke="#333" stroke-width="1.3" fill="none"/>
<text transform="translate(540.15 188.50) skewY(0.3) scale(1 1.0)" font-size="13.9" fill="#4D4D4D" text-anchor="middle">−50</text>
<text transform="translate(590.45 188.50) skewY(0.3) scale(1 1.0)" font-size="13.9" fill="#4D4D4D" text-anchor="middle">−25</text>
<text transform="translate(637.65 188.50) skewY(0.3) scale(1 1.0)" font-size="13.9" fill="#4D4D4D" text-anchor="middle">0</text>
<text transform="translate(494.40 10.85) skewY(0.3) scale(1 1.0)" font-size="13.9" fill="#4D4D4D" text-anchor="end">20</text>
<text transform="translate(494.40 46.91) skewY(0.3) scale(1 1.0)" font-size="13.9" fill="#4D4D4D" text-anchor="end">10</text>
<text transform="translate(494.40 82.97) skewY(0.3) scale(1 1.0)" font-size="13.9" fill="#4D4D4D" text-anchor="end">0</text>
<text transform="translate(494.40 119.03) skewY(0.3) scale(1 1.0)" font-size="13.9" fill="#4D4D4D" text-anchor="end">−10</text>
<text transform="translate(494.40 155.09) skewY(0.3) scale(1 1.0)" font-size="13.9" fill="#4D4D4D" text-anchor="end">−20</text>
<text transform="translate(589.40 206.90) skewY(0.3) scale(1 1.0)" font-size="13.5" fill="#000" text-anchor="middle">PC5 (5%)</text>
<text transform="translate(481.1 108.5) rotate(-90) skewY(0.3) scale(1 1.0)" font-size="13.5" fill="#000">PC6 (4%)</text>
</g>
<circle cx="58.20" cy="238.90" r="4.85" fill="#6E8B3D"/>
<text transform="translate(66.70 243.10) skewY(0.3) scale(1 1.0)" font-size="13.5" fill="#6E8B3D">CD8T Adult</text>
<path d="M58.20 249.15L63.61 258.52L52.79 258.52Z" fill="#A2CF5E"/>
<text transform="translate(66.70 259.20) skewY(0.3) scale(1 1.0)" font-size="13.5" fill="#A2CF5E">CD8T Cord</text>
<circle cx="161.80" cy="238.90" r="4.85" fill="#138D47"/>
<text transform="translate(170.30 243.10) skewY(0.3) scale(1 1.0)" font-size="13.5" fill="#138D47">CD4T Adult</text>
<path d="M161.80 249.15L167.21 258.52L156.39 258.52Z" fill="#3DB549"/>
<text transform="translate(170.30 259.20) skewY(0.3) scale(1 1.0)" font-size="13.5" fill="#3DB549">CD4T Cord</text>
<circle cx="265.00" cy="238.90" r="4.85" fill="#17698F"/>
<text transform="translate(271.60 243.10) skewY(0.3) scale(1 1.0)" font-size="13.5" fill="#17698F">B Adult</text>
<path d="M265.00 249.15L270.41 258.52L259.59 258.52Z" fill="#1A9AD6"/>
<text transform="translate(271.60 259.20) skewY(0.3) scale(1 1.0)" font-size="13.5" fill="#1A9AD6">B Cord</text>
<circle cx="339.80" cy="238.90" r="4.85" fill="#55878B"/>
<text transform="translate(350.50 243.10) skewY(0.3) scale(1 1.0)" font-size="13.5" fill="#55878B">NK Adult</text>
<path d="M339.80 249.15L345.21 258.52L334.39 258.52Z" fill="#7BC6CE"/>
<text transform="translate(350.50 259.20) skewY(0.3) scale(1 1.0)" font-size="13.5" fill="#7BC6CE">NK Cord</text>
<circle cx="427.10" cy="238.90" r="4.85" fill="#8C2224"/>
<text transform="translate(435.40 243.10) skewY(0.3) scale(1 1.0)" font-size="13.5" fill="#8C2224">G Adult</text>
<path d="M427.10 249.15L432.51 258.52L421.69 258.52Z" fill="#D73336"/>
<text transform="translate(435.40 259.20) skewY(0.3) scale(1 1.0)" font-size="13.5" fill="#D73336">G Cord</text>
<circle cx="504.70" cy="238.90" r="4.85" fill="#D2691E"/>
<text transform="translate(512.40 243.10) skewY(0.3) scale(1 1.0)" font-size="13.5" fill="#D2691E">Mo Adult</text>
<path d="M504.70 249.15L510.11 258.52L499.29 258.52Z" fill="#F47F24"/>
<text transform="translate(512.40 259.20) skewY(0.3) scale(1 1.0)" font-size="13.5" fill="#F47F24">Mo Cord</text>
<path d="M589.40 249.15L594.81 258.52L583.99 258.52Z" fill="#6A2C91"/>
<text transform="translate(595.80 259.20) skewY(0.3) scale(1 1.0)" font-size="13.5" fill="#6A2C91">nRBC Cord</text>
</svg></body></html>
